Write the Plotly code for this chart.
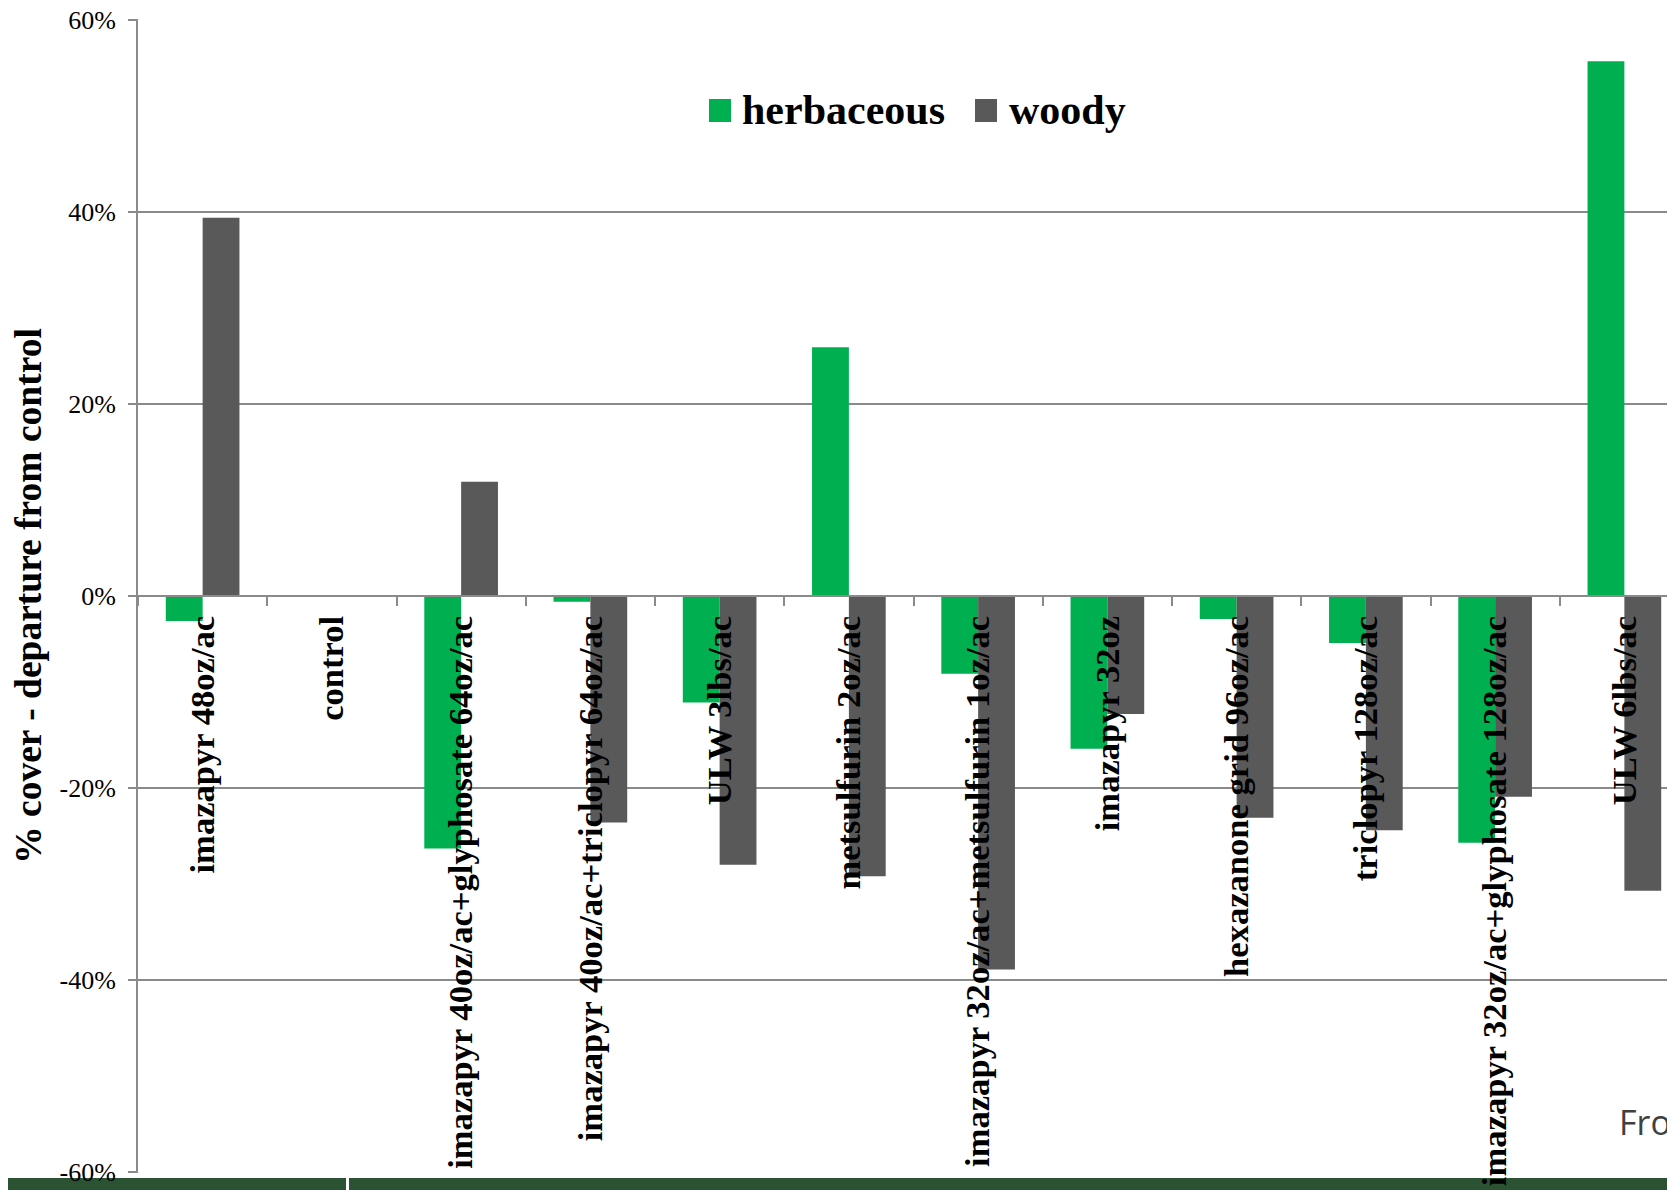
import plotly.graph_objects as go

categories = [
    "imazapyr 48oz/ac", "control", "imazapyr 40oz/ac+glyphosate 64oz/ac",
    "imazapyr 40oz/ac+triclopyr 64oz/ac", "ULW 3lbs/ac", "metsulfurin 2oz/ac",
    "imazapyr 32oz/ac+metsulfurin 1oz/ac", "imazapyr 32oz", "hexazanone grid 96oz/ac",
    "triclopyr 128oz/ac", "imazapyr 32oz/ac+glyphosate 128oz/ac", "ULW 6lbs/ac",
]
herbaceous = [-2.6, 0.0, -26.3, -0.6, -11.1, 25.9, -8.1, -15.9, -2.4, -4.9, -25.7, 55.7]
woody = [39.4, 0.0, 11.9, -23.6, -28.0, -29.2, -38.9, -12.3, -23.1, -24.4, -20.9, -30.7]
series_names = ["herbaceous", "woody"]
y_tick_values = [-60, -40, -20, 0, 20, 40, 60]
y_tick_labels = ["-60%", "-40%", "-20%", "0%", "20%", "40%", "60%"]

GREEN = "#00B050"
GRAY = "#595959"
GRID = "#8A8A8A"
SERIF = "Liberation Serif, Times New Roman, serif"

# page body margin offset (the page draws the figure 8px in)
OFF = 8
PAD = 0.1  # tiny range padding so the ±60% gridlines are drawn
W, H = 1675 - OFF, 1190 - OFF
L, R, T = 138 - OFF, 0, 20 - OFF - 1
B = H - (1172 - OFF) - 1
PW, PH = W - L - R, H - T - B


def px(x):
    """reference-page x pixel -> paper coordinate"""
    return (x - OFF - L) / PW


def py(y):
    """reference-page y pixel -> paper coordinate"""
    return (H - B - (y - OFF)) / PH


fig = go.Figure()
fig.add_trace(go.Bar(x=categories, y=herbaceous, name=series_names[0],
                     marker=dict(color=GREEN, line=dict(width=0)), showlegend=False))
fig.add_trace(go.Bar(x=categories, y=woody, name=series_names[1],
                     marker=dict(color=GRAY, line=dict(width=0)), showlegend=False))

fig.update_layout(
    width=W, height=H,
    margin=dict(l=L, r=R, t=T, b=B, autoexpand=False),
    paper_bgcolor="white", plot_bgcolor="white",
    barmode="group", bargap=0.43, bargroupgap=0,
    showlegend=False,
    font=dict(family=SERIF, color="black"),
)

fig.update_xaxes(
    type="category", categoryorder="array", categoryarray=categories,
    range=[-0.5, -0.5 + PW / ((1689 - 138) / 12)],
    anchor="free", position=0.5,
    showline=True, linecolor=GRID, linewidth=2,
    ticks="outside", tickson="boundaries", ticklen=9, tickcolor=GRID, tickwidth=2,
    tickangle=-90, ticklabelstandoff=5,
    tickfont=dict(family=SERIF, size=34.6, color="black", weight="bold"),
    showgrid=False, automargin=False, zeroline=False,
)

fig.update_yaxes(
    range=[-60 - PAD, 60 + PAD], tickvals=y_tick_values, ticktext=y_tick_labels,
    showgrid=True, gridcolor=GRID, gridwidth=2,
    showline=True, linecolor=GRID, linewidth=2,
    ticks="outside", ticklen=8, tickcolor=GRID, tickwidth=2,
    tickfont=dict(family=SERIF, size=26, color="black"),
    ticklabelstandoff=7, ticklabeloverflow="allow",
    zeroline=False, automargin=False,
    title=dict(text="% cover - departure from control",
               font=dict(family=SERIF, size=37.5, color="black", weight="bold"),
               standoff=10),
)

# legend drawn to match the reference's large swatches
leg_items = [(series_names[0], GREEN, 709, 740), (series_names[1], GRAY, 975, 1007)]
for name, col, sx, tx in leg_items:
    fig.add_shape(type="rect", xref="paper", yref="paper",
                  x0=px(sx), x1=px(sx + 22), y0=py(122), y1=py(99),
                  fillcolor=col, line=dict(width=0))
    fig.add_annotation(xref="paper", yref="paper", x=px(tx), y=py(110),
                       xanchor="left", yanchor="middle", showarrow=False,
                       text=name, font=dict(family=SERIF, size=42, color="black", weight="bold"))

# slide footer band (drawn beneath the axis labels, as in the reference)
for x0, x1 in [(0, 346), (349, 1675)]:
    fig.add_shape(type="rect", xref="paper", yref="paper",
                  x0=px(x0), x1=px(x1), y0=py(1190), y1=py(1178),
                  fillcolor="#2C5234", line=dict(width=0), layer="below")

fig.add_annotation(xref="paper", yref="paper", x=px(1673), y=py(1122),
                   xanchor="right", yanchor="middle", showarrow=False,
                   text="Fro", font=dict(family="Open Sans, sans-serif", size=34, color="#404040"))

fig.write_html("out.html")
